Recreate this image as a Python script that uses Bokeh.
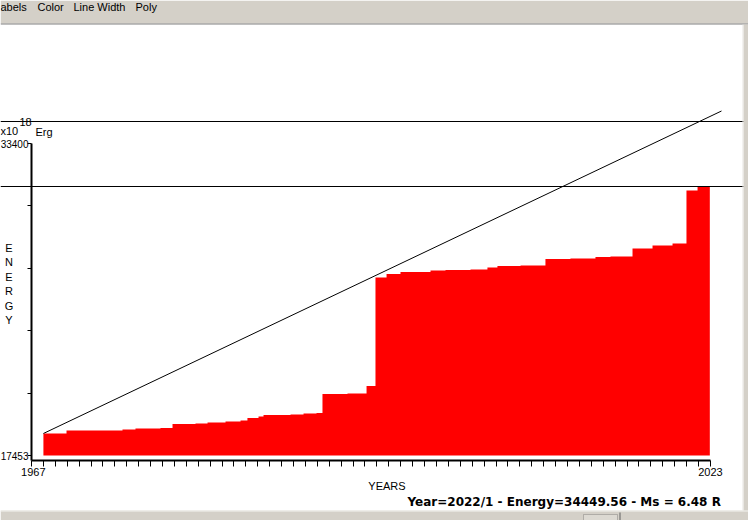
from bokeh.plotting import figure
from bokeh.models import (Range1d, FixedTicker, Label, Span, BoxAnnotation,
                          CustomJSTickFormatter)
from bokeh.embed import file_html
from bokeh.resources import INLINE

# ---------------- data ----------------
step_years = [1967.00, 1968.94, 1973.64, 1974.73, 1976.83, 1977.84, 1979.77,
              1980.78, 1982.29, 1983.55, 1984.13, 1985.06, 1985.48, 1987.75,
              1988.84, 1989.93, 1990.43, 1992.53, 1994.13, 1994.88, 1995.81,
              1996.98, 1999.50, 2000.76, 2002.86, 2004.28, 2005.12, 2007.06,
              2009.15, 2011.25, 2013.35, 2014.61, 2016.46, 2018.14, 2019.82,
              2020.99, 2021.92]
step_energy = [18578, 18731, 18782, 18833, 18859, 19063, 19089,
               19140, 19191, 19242, 19370, 19446, 19523, 19549,
               19600, 19625, 20596, 20622, 21005, 26551, 26730,
               26832, 26909, 26934, 26960, 27062, 27139, 27164,
               27497, 27522, 27599, 27624, 28033, 28187, 28289,
               30998, 31202]
end_year = 2022.95
base_energy = 17453

y_tick_values = [17453, 20642.4, 23831.8, 27021.2, 30210.6, 33400]
y_tick_text = {33400: "33400", 17453: "17453"}
x_tick_years = list(range(1966, 2024))
x_first_label = "1967"
x_last_label = {2023: "2023"}

trend_years = [1967.0, 2023.93]
trend_energy = [18578, 35061]
level_lines = [34524, 31202]

status_text = "Year=2022/1 - Energy=34449.56 - Ms = 6.48 R"
menu_items = ["abels", "Color", "Line Width", "Poly"]
menu_x = [0, 37, 73, 135]

# ---------------- pixel helpers (text / chrome placement) ----------------
PX_PER_YEAR = 11.9107
E_PER_PX = 51.112


def X(px):
    return 1966 + (px - 31) / PX_PER_YEAR


def Y(py):
    return 33400 - (py - 143) * E_PER_PX


FONT = "Liberation Sans"
GRAY = "#d4d0c8"
W, H = 748, 520

p = figure(width=W, height=H, x_range=Range1d(X(0), X(W)), y_range=Range1d(Y(H), Y(0)),
           toolbar_location=None, output_backend="svg",
           min_border=0, min_border_left=0, min_border_right=0,
           min_border_top=0, min_border_bottom=0)
p.grid.visible = False
p.outline_line_color = None
p.background_fill_color = "white"
p.border_fill_color = "white"

# red cumulative energy steps
xs = step_years + [end_year]
ys = step_energy + [step_energy[-1]]
p.varea_step(x=xs, y1=[base_energy] * len(xs), y2=ys, step_mode="after",
             fill_color="#ff0000")

# trend line
p.line(trend_years, trend_energy, line_color="black", line_width=1)

# horizontal level lines
for lv in level_lines:
    p.add_layout(Span(location=lv, dimension="width", line_color="black", line_width=1))

# axes (placed inside the frame at fixed locations)
p.yaxis.fixed_location = 1966
p.yaxis.ticker = FixedTicker(ticks=y_tick_values)
p.yaxis.formatter = CustomJSTickFormatter(code="return ''")
p.yaxis.major_label_overrides = y_tick_text
p.yaxis.bounds = (Y(460), 33400)
p.yaxis.axis_line_width = 2
p.yaxis.major_tick_out = 4
p.yaxis.major_tick_in = 0
p.yaxis.minor_tick_line_color = None
p.yaxis.major_label_standoff = -1
p.yaxis.major_label_text_font = FONT
p.yaxis.major_label_text_font_size = "10px"
p.yaxis.major_label_text_color = "black"

p.xaxis.fixed_location = Y(460)
p.xaxis.ticker = FixedTicker(ticks=x_tick_years)
p.xaxis.formatter = CustomJSTickFormatter(code="return ''")
p.xaxis.major_label_overrides = x_last_label
p.xaxis.bounds = (1966, 2023)
p.xaxis.axis_line_width = 2
p.xaxis.major_tick_out = 6
p.xaxis.major_tick_in = 0
p.xaxis.minor_tick_line_color = None
p.xaxis.major_label_standoff = 1
p.xaxis.major_label_text_font = FONT
p.xaxis.major_label_text_font_size = "11px"
p.xaxis.major_label_text_color = "black"


def lab(x, y, text, align="left", size="11px", font=FONT, style="normal"):
    p.add_layout(Label(x=x, y=y, text=text, text_font=font, text_font_size=size,
                       text_font_style=style, text_align=align,
                       text_baseline="middle", text_color="black"))


lab(X(45), Y(471.5), x_first_label, align="right")
lab(X(386.5), Y(485.5), "YEARS", align="center")
for i, ch in enumerate("ENERGY"):
    lab(X(8.5), Y(247 + i * 14.5), ch, align="center")
lab(X(0), Y(130), "x10")
lab(X(19), Y(121.5), "18")
lab(X(35), Y(131), "Erg")
lab(X(407), Y(501.5), status_text, font="DejaVu Sans", size="12px", style="bold")


def box(l, r, t, b, fill, line=None):
    p.add_layout(BoxAnnotation(left=X(l), right=X(r), top=Y(t), bottom=Y(b),
                               fill_color=fill, fill_alpha=1, line_color=line,
                               line_width=1))


# window chrome: menu bar, right and bottom frame strips, status-bar button
box(0, W, 0, 23, GRAY)
box(0, W, 23, 24, "#808080")
box(743, W, 24, H, GRAY)
box(742, 743, 24, 510, "#e8e6e1")
box(0, W, 510, H, GRAY)
box(0, W, 510, 511, "#f4f3f0")
box(583, 617, 514, H + 2, "#dcd9d2", "#505050")
box(619, 620, 512, H, "#606060")
for t, xx in zip(menu_items, menu_x):
    lab(X(xx), Y(6), t)

open("out.html", "w").write(file_html(p, INLINE))
